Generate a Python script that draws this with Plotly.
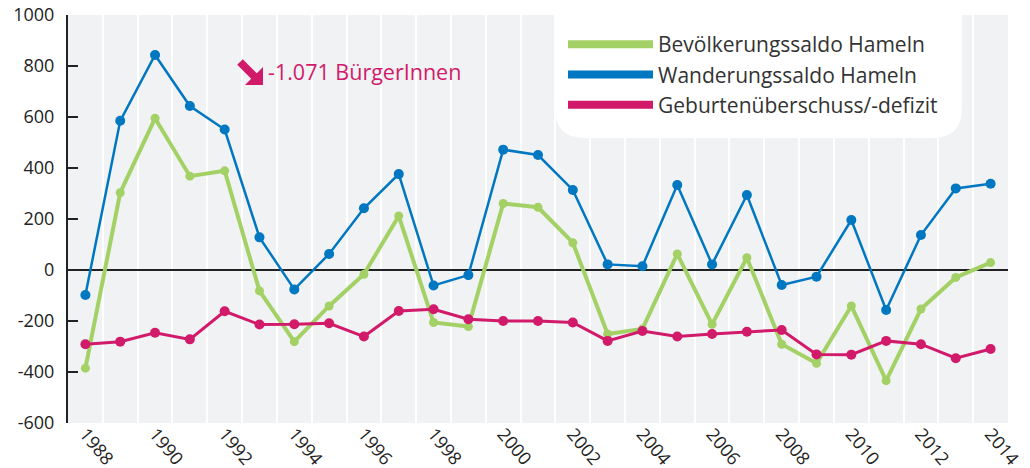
import plotly.graph_objects as go

years = list(range(1988, 2015))
bevoelkerung = [-385, 303, 595, 368, 389, -82, -281, -141, -17, 212, -206, -222, 261, 246, 107,
                -251, -231, 63, -213, 48, -291, -366, -141, -434, -153, -29, 29]
wanderung = [-98, 585, 843, 643, 551, 128, -76, 63, 242, 376, -61, -20, 472, 451, 314,
             22, 15, 333, 22, 294, -59, -26, 196, -157, 137, 320, 338]
geburten = [-291, -281, -246, -272, -162, -214, -213, -209, -261, -161, -154, -193, -200, -200, -206,
            -278, -239, -261, -251, -242, -235, -331, -332, -278, -291, -346, -310]

series_names = ["Bevölkerungssaldo Hameln", "Wanderungssaldo Hameln", "Geburtenüberschuss/-defizit"]
colors = ["#a3d166", "#0077c1", "#d11a6a"]

y_tickvals = [-600, -400, -200, 0, 200, 400, 600, 800, 1000]
y_ticktext = ["-600", "-400", "-200", "0", "200", "400", "600", "800", "1000"]
x_tickvals = list(range(1988, 2015, 2))
annotation_text = "-1.071 BürgerInnen"

FONT = "Open Sans"

fig = go.Figure()

data_order = [(bevoelkerung, colors[0], 4, 9), (geburten, colors[2], 3, 10), (wanderung, colors[1], 2.5, 10)]
for vals, col, lw, ms in data_order:
    fig.add_trace(go.Scatter(x=years, y=vals, mode="lines+markers",
                             line=dict(color=col, width=lw),
                             marker=dict(color=col, size=ms),
                             showlegend=False, hoverinfo="x+y"))

# legend entries (lines only)
for name, col in zip(series_names, colors):
    fig.add_trace(go.Scatter(x=[None], y=[None], mode="lines", name=name,
                             line=dict(color=col, width=8), showlegend=True))

# plot area in page px: x 68..1008, y 15..423
def px_x(p):
    return (p - 68) / 940.0

def px_y(p):
    return (423 - p) / 408.0

x0, x1 = px_x(555), px_x(962)
yb, yt = px_y(138), 1.0
rx, ry = 30 / 940.0, 30 / 408.0
legend_box = (f"M {x0},{yt} L {x0},{yb+ry} Q {x0},{yb} {x0+rx},{yb} "
              f"L {x1-rx},{yb} Q {x1},{yb} {x1},{yb+ry} L {x1},{yt} Z")

# decorative arrow next to the annotation (pixel outline converted to paper)
arrow_px = [(263, 67), (256.8, 73.2), (242.8, 59.2), (237.2, 64.8), (251.2, 78.8), (245, 85), (263, 85)]
arrow_path = "M " + " L ".join(f"{px_x(a)},{px_y(b)}" for a, b in arrow_px) + " Z"

# the page body has an 8px margin, so the figure starts at page (8, 8)
fig.update_layout(
    width=1022, height=460,
    margin=dict(l=60, r=22, t=7, b=45),
    paper_bgcolor="white",
    plot_bgcolor="#f1f2f4",
    font=dict(family=FONT, size=18, color="#222"),
    shapes=[dict(type="path", path=legend_box, xref="paper", yref="paper",
                 fillcolor="white", line=dict(width=0), layer="above"),
            dict(type="path", path=arrow_path, xref="paper", yref="paper",
                 fillcolor="#d11a6a", line=dict(width=0), layer="above")],
    legend=dict(x=px_x(563), y=px_y(24), xanchor="left", yanchor="top",
                bgcolor="rgba(0,0,0,0)", font=dict(family=FONT, size=21, color="#333"),
                itemwidth=85, tracegroupgap=0),
    annotations=[
        dict(x=px_x(266), y=px_y(72), xref="paper", yref="paper", text=annotation_text,
             showarrow=False, xanchor="left", yanchor="middle",
             font=dict(family=FONT, size=21.5, color="#d11a6a")),
    ],
    xaxis=dict(range=[1987.5, 2014.5], tickmode="array", tickvals=x_tickvals,
               tickangle=50, ticks="", showgrid=False, zeroline=False, showline=False,
               automargin=False, ticklabeloverflow="allow", ticklabelstandoff=-4,
               tickfont=dict(family=FONT, size=18, color="#222"),
               minor=dict(tickmode="linear", tick0=1987.5, dtick=1, showgrid=True,
                          gridcolor="white", gridwidth=2, ticks="")),
    yaxis=dict(range=[-600, 1000], tickmode="array", tickvals=y_tickvals, ticktext=y_ticktext,
               showgrid=False, showline=True, linecolor="#222", linewidth=2,
               ticks="inside", ticklen=10, tickwidth=2, tickcolor="#222",
               zeroline=True, zerolinecolor="#222", zerolinewidth=2,
               automargin=False, ticklabelstandoff=8, ticklabeloverflow="allow",
               tickfont=dict(family=FONT, size=18, color="#222")),
)

fig.write_html("out.html")
